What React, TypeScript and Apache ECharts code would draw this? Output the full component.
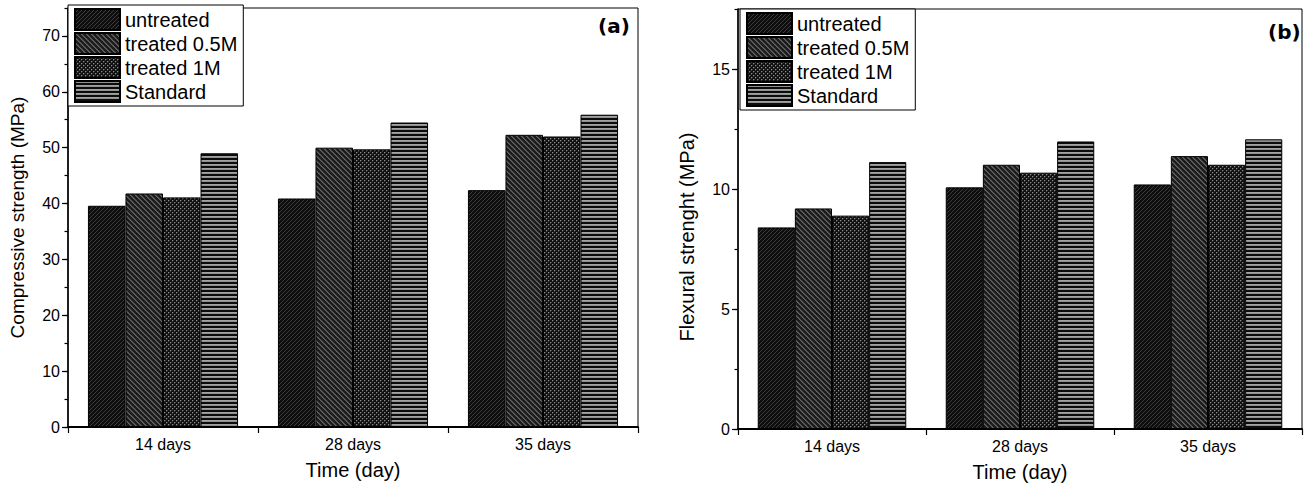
import React, { useEffect, useRef } from 'react';
import * as echarts from 'echarts';

const categories = ['14 days', '28 days', '35 days'];
const seriesNames = ['untreated', 'treated 0.5M', 'treated 1M', 'Standard'];

// (a) Compressive strength (MPa)
const compUntreated = [39.6, 40.9, 42.4];
const compTreated05 = [41.8, 50.0, 52.3];
const compTreated1 = [41.1, 49.7, 52.0];
const compStandard = [49.0, 54.5, 55.9];

// (b) Flexural strength (MPa)
const flexUntreated = [8.4, 10.07, 10.19];
const flexTreated05 = [9.19, 11.01, 11.37];
const flexTreated1 = [8.89, 10.68, 11.01];
const flexStandard = [11.12, 11.98, 12.07];

const compTicks = { min: 0, max: 75, major: 10, minor: 5 };
const flexTicks = { min: 0, max: 17.5, major: 5, minor: 2.5 };

const FONT = 'Arial, "Liberation Sans", Helvetica, sans-serif';

function tile(w: number, h: number, bg: string, pts: [number, number, string][]) {
  const c = document.createElement('canvas');
  c.width = w;
  c.height = h;
  const ctx = c.getContext('2d')!;
  ctx.fillStyle = bg;
  ctx.fillRect(0, 0, w, h);
  for (const [x, y, col] of pts) {
    ctx.fillStyle = col;
    ctx.fillRect(x, y, 1, 1);
  }
  return { image: c, repeat: 'repeat', imageWidth: w, imageHeight: h } as any;
}

function makePatterns() {
  // untreated: black with "/" diagonal lines
  const p1: [number, number, string][] = [];
  for (let i = 0; i < 4; i++) p1.push([i, 3 - i, '#3c3c3c']);
  // treated 0.5M: "\" diagonal stripes, dark gray
  const p2: [number, number, string][] = [];
  for (let i = 0; i < 5; i++) {
    p2.push([i, i, '#626262']);
    p2.push([(i + 1) % 5, i, '#4e4e4e']);
  }
  // treated 1M: dotted
  const p3: [number, number, string][] = [
    [0, 0, '#8a8a8a'], [2, 2, '#8a8a8a'],
    [1, 0, '#3a3a3a'], [0, 1, '#3a3a3a'], [3, 2, '#3a3a3a'], [2, 3, '#3a3a3a'],
  ];
  // Standard: horizontal stripes
  const p4: [number, number, string][] = [];
  for (let x = 0; x < 4; x++) {
    p4.push([x, 0, '#a2a2a2']);
    p4.push([x, 1, '#909090']);
  }
  return [
    tile(4, 4, '#0e0e0e', p1),
    tile(5, 5, '#1c1c1c', p2),
    tile(4, 4, '#101010', p3),
    tile(4, 4, '#0c0c0c', p4),
  ];
}

function yAxes(
  gridIndex: number,
  t: { min: number; max: number; major: number; minor: number },
  name: string,
  nameSize: number,
  namePad: number[],
) {
  return [
    {
      type: 'value',
      gridIndex,
      position: 'left',
      min: t.min,
      max: t.max,
      interval: t.major,
      name,
      nameLocation: 'middle',
      nameGap: 41,
      nameTextStyle: { fontSize: nameSize, color: '#000', fontFamily: FONT, padding: namePad },
      axisLine: { show: true, lineStyle: { color: '#000', width: 1.5 } },
      axisTick: { show: true, inside: false, length: 6, lineStyle: { color: '#000', width: 1.2 } },
      axisLabel: { fontSize: 16, color: '#000', fontFamily: FONT, margin: 8, showMaxLabel: false },
      splitLine: { show: false },
    },
    {
      type: 'value',
      gridIndex,
      position: 'left',
      min: t.min,
      max: t.max,
      interval: t.minor,
      axisLine: { show: false },
      axisTick: { show: true, inside: false, length: 3.5, lineStyle: { color: '#000', width: 1.2 } },
      axisLabel: { show: false },
      splitLine: { show: false },
    },
  ];
}

function xAxis(gridIndex: number) {
  return {
    type: 'category',
    gridIndex,
    data: categories,
    name: 'Time (day)',
    nameLocation: 'middle',
    nameGap: 33,
    nameTextStyle: { fontSize: 20, color: '#000', fontFamily: FONT },
    axisLine: { show: true, lineStyle: { color: '#000', width: 2 } },
    axisTick: { show: true, inside: false, alignWithLabel: false, length: 6, lineStyle: { color: '#000', width: 1.2 } },
    axisLabel: { fontSize: 16, color: '#000', fontFamily: FONT, margin: 9 },
    splitLine: { show: false },
  };
}

function legend(left: number, top: number) {
  return {
    orient: 'vertical',
    left,
    top,
    data: seriesNames,
    icon: 'rect',
    itemWidth: 45,
    itemHeight: 21,
    itemGap: 1,
    padding: [3, 6, 3, 6],
    backgroundColor: '#fff',
    borderColor: '#000',
    borderWidth: 1,
    borderRadius: 0,
    selectedMode: false,
    textStyle: { fontSize: 20, color: '#000', fontFamily: FONT, padding: [0, 0, 0, 0] },
    z: 10,
  };
}

export default function App() {
  const ref = useRef<HTMLDivElement>(null);
  useEffect(() => {
    if (!ref.current) return;
    const chart = echarts.init(ref.current, undefined, { renderer: 'svg' });
    const pats = makePatterns();
    const compData = [compUntreated, compTreated05, compTreated1, compStandard];
    const flexData = [flexUntreated, flexTreated05, flexTreated1, flexStandard];
    const mk = (data: number[][], xi: number, yi: number) =>
      data.map((d, i) => ({
        type: 'bar',
        name: seriesNames[i],
        xAxisIndex: xi,
        yAxisIndex: yi,
        data: d,
        barGap: '0%',
        barCategoryGap: '21%',
        itemStyle: { color: pats[i], borderColor: '#000', borderWidth: 1 },
        emphasis: { disabled: true },
      }));
    chart.setOption({
      animation: false,
      backgroundColor: '#fff',
      textStyle: { fontFamily: FONT },
      grid: [
        { left: 68, top: 8, width: 570, bottom: 64, show: true, borderColor: '#000', borderWidth: 1, backgroundColor: 'transparent' },
        { left: 738, top: 9, right: 4, bottom: 62, show: true, borderColor: '#000', borderWidth: 1, backgroundColor: 'transparent' },
      ],
      xAxis: [xAxis(0), xAxis(1)],
      yAxis: [
        ...yAxes(0, compTicks, 'Compressive strength (MPa)', 19, [0, 0, 0, 0]),
        ...yAxes(1, flexTicks, 'Flexural strenght (MPa)', 20, [0, 36, 0, 0]),
      ],
      legend: [legend(68, 5), legend(740, 9)],
      series: [...mk(compData, 0, 0), ...mk(flexData, 1, 2)],
      graphic: [
        { type: 'text', left: 598, top: 16, style: { text: '(a)', font: 'bold 20px "DejaVu Sans", sans-serif', fill: '#000' } },
        { type: 'text', left: 1268, top: 22, style: { text: '(b)', font: 'bold 20px "DejaVu Sans", sans-serif', fill: '#000' } },
      ],
    });
    return () => chart.dispose();
  }, []);
  return (
    <div
      ref={ref}
      style={{ position: 'absolute', left: 0, top: 0, width: 1306, height: 491 }}
    />
  );
}
